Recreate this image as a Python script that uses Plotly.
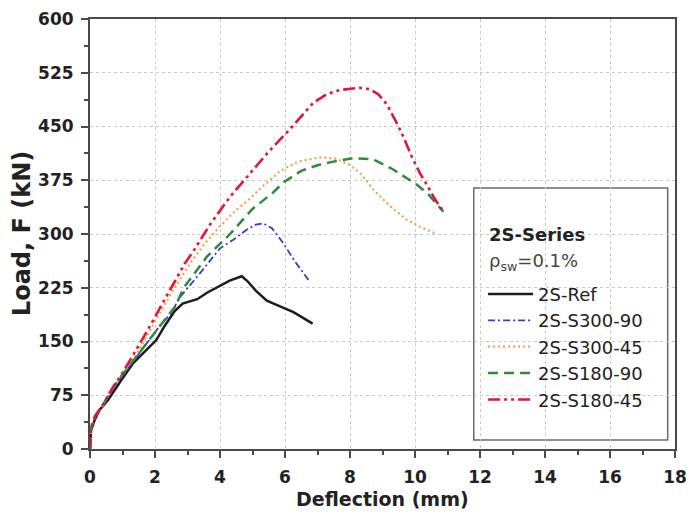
import plotly.graph_objects as go

# ---- data ----
ref_x = [0, 0.03, 0.14, 0.3, 0.55, 0.75, 0.96, 1.33, 1.7, 2.04, 2.3, 2.6, 2.85, 3.08, 3.3, 3.6, 4.0, 4.3, 4.67, 4.85, 5.1, 5.44, 5.9, 6.26, 6.85]
ref_y = [0, 26, 40, 55, 68, 82, 96, 120, 136, 152, 172, 192, 203, 206, 209, 218, 228, 235, 241, 234, 221, 207, 198, 191, 175]

s300_90_x = [0, 0.03, 0.15, 0.4, 0.7, 1.0, 1.5, 2.15, 2.5, 2.77, 3.38, 4.0, 4.41, 4.82, 5.1, 5.33, 5.6, 5.95, 6.3, 6.72]
s300_90_y = [0, 28, 44, 60, 84, 102, 132, 172, 190, 212, 245, 280, 292, 306, 313, 315, 308, 287, 262, 236]

s300_45_x = [0, 0.03, 0.15, 0.4, 0.7, 1.0, 1.5, 2.05, 2.56, 3.08, 3.5, 4.0, 4.51, 4.82, 5.3, 5.85, 6.4, 7.08, 7.59, 8.0, 8.31, 8.72, 9.23, 9.74, 10.2, 10.62]
s300_45_y = [0, 29, 45, 61, 85, 104, 137, 182, 222, 259, 285, 311, 334, 345, 366, 388, 401, 407, 405, 396, 385, 362, 339, 320, 309, 301]

s180_90_x = [0, 0.03, 0.15, 0.4, 0.7, 1.0, 1.5, 1.89, 2.26, 2.64, 2.87, 3.59, 4.31, 5.0, 5.64, 5.95, 6.5, 7.0, 7.49, 8.1, 8.72, 9.33, 10.05, 10.4, 10.87]
s180_90_y = [0, 30, 46, 62, 85, 104, 133, 157, 178, 200, 224, 268, 300, 335, 358, 372, 388, 396, 401, 406, 404, 390, 369, 356, 331]

s180_45_x = [0, 0.03, 0.15, 0.4, 0.7, 1.0, 1.48, 1.84, 2.4, 2.92, 3.18, 3.69, 4.31, 4.92, 5.5, 6.15, 6.87, 7.28, 7.69, 8.31, 8.6, 8.87, 9.13, 9.38, 9.59, 9.9, 10.15, 10.36, 10.62, 10.87]
s180_45_y = [0, 28, 45, 62, 86, 106, 143, 171, 217, 259, 276, 313, 352, 384, 415, 446, 483, 495, 501, 504, 502, 495, 481, 460, 441, 408, 385, 369, 348, 332]

names = ["2S-Ref", "2S-S300-90", "2S-S300-45", "2S-S180-90", "2S-S180-45"]
xs = [ref_x, s300_90_x, s300_45_x, s180_90_x, s180_45_x]
ys = [ref_y, s300_90_y, s300_45_y, s180_90_y, s180_45_y]
colors = ["#1c1c1c", "#3a3ad2", "#f5a04a", "#2e8b3e", "#e0163c"]
widths = [2.5, 1.8, 2.2, 2.5, 2.6]
dashes = ["solid", "7px,3px,2px,3px", "2px,3px", "10px,6px", "12px,4px,3px,4px,3px,4px"]

x_ticks = [0, 2, 4, 6, 8, 10, 12, 14, 16, 18]
y_ticks = [0, 75, 150, 225, 300, 375, 450, 525, 600]

legend_title = "2S-Series"
legend_subtitle = "ρ<sub>sw</sub>=0.1%"

fig = go.Figure()
for n, x, y, c, w, d in zip(names, xs, ys, colors, widths, dashes):
    fig.add_trace(go.Scatter(x=x, y=y, mode="lines", name=n,
                             line=dict(color=c, width=w, dash=d)))

FONT = "DejaVu Sans, Arial, sans-serif"
axis_common = dict(
    showline=True, linecolor="#4a4a4a", linewidth=2, mirror=True,
    ticks="outside", ticklen=7, tickwidth=1.5, tickcolor="#4a4a4a",
    showgrid=True, gridcolor="#c9c9c9", griddash="dot", gridwidth=1,
    zeroline=False,
    tickfont=dict(family=FONT, size=17, color="#222", weight="bold"),
)
fig.update_xaxes(range=[0, 18], tickvals=x_ticks, ticktext=[str(v) for v in x_ticks],
                 minor=dict(ticks="outside", ticklen=4, dtick=1, tick0=0, tickcolor="#4a4a4a", showgrid=False),
                 ticklabelstandoff=5, automargin=False, **axis_common)
fig.update_yaxes(range=[0, 600], tickvals=y_ticks, ticktext=[str(v) for v in y_ticks],
                 minor=dict(ticks="outside", ticklen=4, dtick=37.5, tick0=0, tickcolor="#4a4a4a", showgrid=False),
                 ticklabelstandoff=4, automargin=False, **axis_common)

fig.add_annotation(text="<b>Deflection (mm)</b>", xref="paper", yref="paper",
                   x=0.5, y=-0.116, xanchor="center", yanchor="middle", showarrow=False,
                   font=dict(family=FONT, size=19, color="#222"))
fig.add_annotation(text="<b>Load, F (kN)</b>", xref="paper", yref="paper",
                   x=-0.116, y=0.5, xanchor="center", yanchor="middle", showarrow=False,
                   textangle=-90, font=dict(family=FONT, size=24, color="#222"))

# legend frame and heading
fig.add_shape(type="rect", xref="paper", yref="paper", x0=0.656, x1=0.9875, y0=0.021, y1=0.607,
              line=dict(color="#6a6a6a", width=1.5), fillcolor="white", layer="below")
fig.add_annotation(text="<b>" + legend_title + "</b>", xref="paper", yref="paper",
                   x=0.6786, y=0.4977, xanchor="left", yanchor="middle", showarrow=False,
                   font=dict(family=FONT, size=18, color="#222"))
fig.add_annotation(text=legend_subtitle, xref="paper", yref="paper",
                   x=0.6786, y=0.4349, xanchor="left", yanchor="middle", showarrow=False,
                   font=dict(family=FONT, size=18, color="#444"))

fig.update_layout(
    width=692, height=516,
    margin=dict(l=90, r=17, t=19, b=67, autoexpand=False),
    paper_bgcolor="white", plot_bgcolor="white",
    font=dict(family=FONT, color="#222"),
    showlegend=True,
    legend=dict(
        x=0.954, y=0.403, xanchor="right", yanchor="top",
        bgcolor="rgba(0,0,0,0)", borderwidth=0,
        font=dict(family=FONT, size=18, color="#222"),
        itemwidth=45,
        tracegroupgap=0,
    ),
)

fig.write_html("out.html")
